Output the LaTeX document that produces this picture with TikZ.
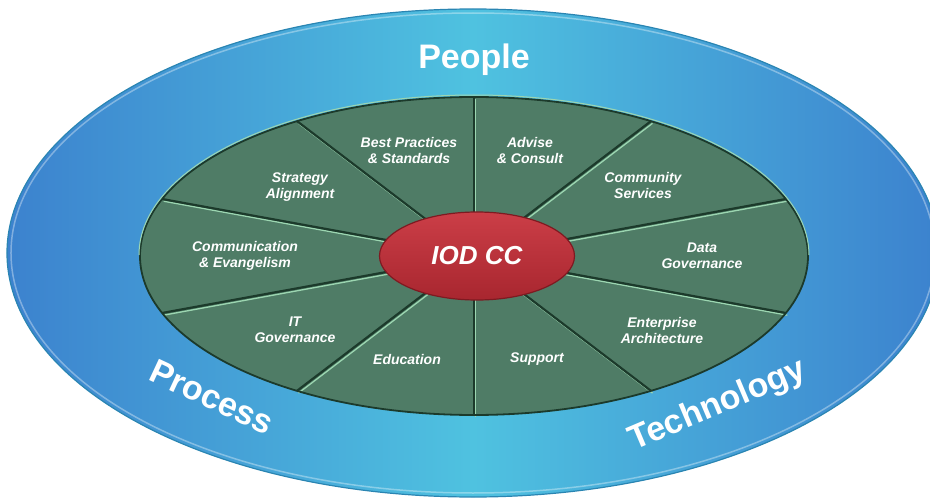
\documentclass[tikz,border=0pt]{standalone}
\usepackage{fontspec}
\setmainfont{Liberation Sans}
\usetikzlibrary{shapes.geometric}
\definecolor{ringblue}{HTML}{3C82CE}
\definecolor{ringcyan}{HTML}{4FC2E0}
\definecolor{ringedge}{HTML}{2A85B2}
\definecolor{pie}{HTML}{4F7C66}
\definecolor{pieedge}{HTML}{1C3A2B}
\definecolor{pielight}{HTML}{9CD6B1}
\definecolor{hubred}{HTML}{CB3E47}
\definecolor{hubdeep}{HTML}{A8262F}
\definecolor{hubedge}{HTML}{7E1A21}

\begin{document}
\begin{tikzpicture}[x=1pt,y=1pt,
				every node/.style={text=white, align=center,
					font=\bfseries\itshape\fontsize{14}{16}\selectfont},
				ring/.style={font=\bfseries\fontsize{34}{34}\selectfont},
				]
				\useasboundingbox (-474,-245) rectangle (456,256);
				% outer ring
				\shade[left color=ringblue, right color=ringblue, middle color=ringcyan] (-1,3) ellipse (466 and 244);
				\draw[ringedge, line width=1.2pt] (-1,3) ellipse (466 and 244);
				\draw[white, opacity=0.35, line width=1.5pt] (-1,3) ellipse (462 and 240);
				% green pie
				\fill[pie] (0,0) ellipse (334 and 159);
				\coordinate (o) at (0,0);
				\foreach \a [count=\i] in {90,58,21,-21,-58,-90,-122,-159,159,122}
					\coordinate (s\i) at (\a:334 and 159);
				\foreach \i in {1,...,10} {
					\draw[pielight, line width=1.3pt] ([xshift=1.5pt,yshift=-2.2pt]o) -- ([xshift=1.5pt,yshift=-2.2pt]s\i);
					\draw[pieedge, line width=2.2pt] (o) -- (s\i);
				}
				\draw[pieedge, line width=1.8pt] (0,0) ellipse (334 and 159);
				\draw[pielight, line width=1pt] (-335,1) arc[start angle=180, end angle=0, x radius=335, y radius=160];
				% hub
				\node[ellipse, minimum width=195pt, minimum height=88pt, inner sep=0pt,
					top color=hubred, bottom color=hubdeep, draw=hubedge, line width=1.2pt,
					font=\bfseries\itshape\fontsize{26}{26}\selectfont] (hub) at (3,0) {IOD CC};
				% segments
				\node (bps) at (-65,106) {Best Practices\\\& Standards};
				\node (adv) at (56,106) {Advise\\\& Consult};
				\node (com) at (169,71) {Community\\Services};
				\node (dat) at (228,0) {Data\\Governance};
				\node (ent) at (188,-74) {Enterprise\\Architecture};
				\node (sup) at (63,-103) {Support};
				\node (edu) at (-67,-103) {Education};
				\node (itg) at (-179,-74) {IT\\Governance};
				\node (cme) at (-229,0) {Communication\\\& Evangelism};
				\node (str) at (-174,69) {Strategy\\Alignment};
				% ring labels
				\node[ring] (people) at (0,196) {People};
				\node[ring, rotate=-25] (process) at (-262,-141) {Process};
				\node[ring, rotate=23] (tech) at (244,-150) {Technology};
			\end{tikzpicture}
\end{document}
